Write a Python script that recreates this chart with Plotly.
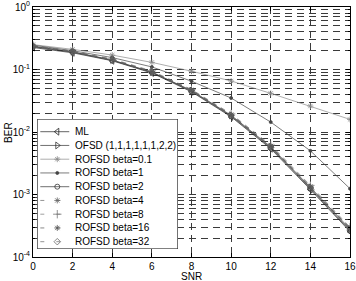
import plotly.graph_objects as go

snr = [0, 2, 4, 6, 8, 10, 12, 14, 16]

ml      = [0.225, 0.185, 0.138, 0.088, 0.044, 0.0175, 0.0054, 0.00120, 0.000255]
ofsd    = [0.235, 0.192, 0.142, 0.091, 0.046, 0.0185, 0.0058, 0.00130, 0.000280]
b01     = [0.250, 0.210, 0.170, 0.130, 0.094, 0.0655, 0.0415, 0.0260, 0.0159]
b1      = [0.245, 0.200, 0.155, 0.110, 0.065, 0.0350, 0.0144, 0.0050, 0.00124]
b2      = [0.232, 0.190, 0.140, 0.090, 0.045, 0.0180, 0.0056, 0.00125, 0.000265]
b4      = [0.238, 0.195, 0.145, 0.093, 0.047, 0.0190, 0.0060, 0.00135, 0.000290]
b8      = [0.240, 0.197, 0.147, 0.095, 0.048, 0.0195, 0.0062, 0.00140, 0.000300]
b16     = [0.236, 0.193, 0.143, 0.092, 0.0465, 0.0187, 0.0059, 0.00132, 0.000285]
b32     = [0.233, 0.191, 0.141, 0.090, 0.0455, 0.0182, 0.0057, 0.00127, 0.000270]

names = ["ML", "OFSD (1,1,1,1,1,1,2,2)", "ROFSD beta=0.1", "ROFSD beta=1",
         "ROFSD beta=2", "ROFSD beta=4", "ROFSD beta=8", "ROFSD beta=16", "ROFSD beta=32"]
series = [ml, ofsd, b01, b1, b2, b4, b8, b16, b32]
symbols = ["triangle-left-open", "triangle-right-open", "asterisk-open", "circle",
           "circle-open", "asterisk-open", "cross-thin-open", "asterisk-open", "diamond-open"]
sizes = [6, 6, 5, 3, 5, 5, 6, 5, 5]
colors = ["#222222", "#333333", "#8a8a8a", "#444444", "#333333", "#666666", "#777777", "#555555", "#666666"]
dashes = ["solid", "solid", "solid", "solid", "solid", "5px,5px", "5px,5px", "5px,5px", "5px,5px"]

fig = go.Figure()
for n, s, sym, sz, c, d in zip(names, series, symbols, sizes, colors, dashes):
    fig.add_trace(go.Scatter(
        x=snr, y=s, name=n, mode="lines+markers", showlegend=False,
        line=dict(color=c, width=0.7, dash=d),
        marker=dict(symbol=sym, size=sz, color=c, line=dict(color=c, width=0.8)),
        xaxis="x", yaxis="y",
    ))

# manual legend on inset axes (pixel-like units)
lx0, lx1, ly0, ly1 = 0.0136, 0.457, 0.032, 0.552
LW, LH = 140.7, 130
fig.add_shape(type="rect", xref="x2", yref="y2", x0=0, x1=LW, y0=0, y1=LH,
              layer="below", fillcolor="white", line=dict(color="black", width=1))

row_step = 13.75
row0 = 12.7
for i, (n, sym, sz, c, d) in enumerate(zip(names, symbols, sizes, colors, dashes)):
    yy = row0 + i * row_step
    fig.add_trace(go.Scatter(
        x=[3, 32], y=[yy, yy], mode="lines", showlegend=False, hoverinfo="skip",
        line=dict(color=c, width=0.7, dash=("solid" if d == "solid" else "4px,12px")),
        xaxis="x2", yaxis="y2",
    ))
    fig.add_trace(go.Scatter(
        x=[20], y=[yy], mode="markers", showlegend=False, hoverinfo="skip",
        marker=dict(symbol=sym, size=sz, color=c, line=dict(color=c, width=0.8)),
        xaxis="x2", yaxis="y2",
    ))
    fig.add_annotation(x=35.5, y=yy, xref="x2", yref="y2", text=n, showarrow=False,
                       xanchor="left", yanchor="middle", font=dict(size=10, color="black"))

# axis titles
fig.add_annotation(x=0.5, y=-0.078, xref="paper", yref="paper", text="SNR", showarrow=False,
                   xanchor="center", yanchor="middle", font=dict(size=10))
fig.add_annotation(x=-0.079, y=0.5, xref="paper", yref="paper", text="BER", showarrow=False,
                   textangle=-90, xanchor="center", yanchor="middle", font=dict(size=10))

ytv = [1e-4, 1e-3, 1e-2, 1e-1, 1e0]
ytt = ["10<sup>-4</sup>", "10<sup>-3</sup>", "10<sup>-2</sup>", "10<sup>-1</sup>", "10<sup>0</sup>"]
grid_c = "#3a3a3a"

fig.update_layout(
    width=356, height=281,
    margin=dict(l=33, r=6, t=7, b=24),
    paper_bgcolor="white", plot_bgcolor="white",
    font=dict(family="Liberation Sans, Arial, sans-serif", size=10, color="black"),
    showlegend=False,
    xaxis=dict(range=[0, 16], tickvals=[0, 2, 4, 6, 8, 10, 12, 14, 16],
               automargin=False,
               showline=True, linecolor="black", linewidth=1, mirror="ticks",
               ticks="inside", ticklen=4, tickcolor="black",
               showgrid=True, gridcolor=grid_c, gridwidth=0.6, griddash="7px,5px",
               zeroline=False),
    yaxis=dict(type="log", range=[-4, 0], tickvals=ytv, ticktext=ytt,
               automargin=False,
               showline=True, linecolor="black", linewidth=1, mirror="ticks",
               ticks="inside", ticklen=4, tickcolor="black",
               showgrid=True, gridcolor=grid_c, gridwidth=0.6, griddash="7px,5px",
               minor=dict(showgrid=True, gridcolor=grid_c, gridwidth=0.6, griddash="7px,5px",
                          ticks="inside", ticklen=2, tickcolor="black",
                          tickvals=[m * 10 ** e for e in range(-4, 0) for m in range(2, 10)])),
    xaxis2=dict(domain=[lx0, lx1], range=[0, LW], anchor="y2", automargin=False,
                showline=False, showgrid=False, zeroline=False, showticklabels=False, ticks="",
                fixedrange=True),
    yaxis2=dict(domain=[ly0, ly1], range=[LH, 0], anchor="x2", automargin=False,
                showline=False, showgrid=False, zeroline=False, showticklabels=False, ticks="",
                fixedrange=True),
)

fig.write_html("out.html", config={"displayModeBar": False},
               post_script="document.body.style.margin='0px';")
